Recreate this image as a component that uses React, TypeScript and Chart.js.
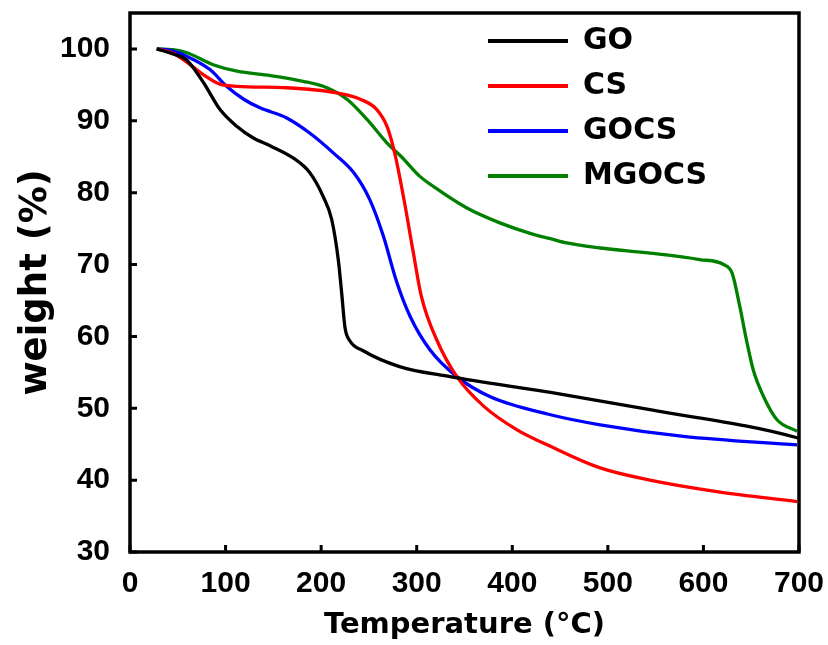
import React, { useEffect, useRef } from 'react';
import { Chart, registerables } from 'chart.js';

Chart.register(...registerables);

const seriesNames = ['GO', 'CS', 'GOCS', 'MGOCS'];
const seriesColors = ['#000000', '#ff0000', '#0000ff', '#008000'];

const goTemp = [28, 45, 59, 77, 94, 112, 129, 147, 171, 188, 202, 211, 218, 221.5, 225, 230, 244, 282, 335, 440, 544, 698, 700];
const goWeight = [100, 99.3, 98.5, 95.3, 91.6, 89.2, 87.6, 86.5, 84.8, 82.8, 79.5, 76.3, 70.6, 66, 61.2, 59.4, 58, 55.8, 54.4, 52.2, 49.8, 45.9, 45.8];

const csTemp = [28, 45, 59, 77, 94, 112, 164, 216, 241, 258, 269, 277, 287, 296, 305, 321, 342, 370, 405, 440, 492, 544, 614, 698];
const csWeight = [100, 99.4, 98.2, 96.4, 95.1, 94.8, 94.6, 93.9, 93.0, 91.6, 89.2, 85.5, 78.8, 72.0, 65.5, 59.5, 54.4, 50.3, 47.0, 44.7, 41.7, 40.0, 38.4, 37.0];

const gocsTemp = [28, 45, 59, 84, 101, 119, 136, 164, 188, 213, 234, 251, 265, 279, 293, 314, 342, 377, 440, 492, 579, 698];
const gocsWeight = [100, 99.7, 99.0, 97.1, 94.8, 93.0, 91.8, 90.4, 88.3, 85.5, 82.8, 79.0, 74.0, 67.6, 62.8, 58.1, 54.4, 51.6, 49.1, 47.7, 46.1, 44.9];

const mgocsTemp = [28, 45, 59, 87, 112, 147, 181, 206, 227, 248, 269, 284, 303, 317, 352, 387, 422, 440, 457, 492, 544, 596, 621, 630, 638, 645, 652, 663, 677, 698];
const mgocsWeight = [100, 99.9, 99.5, 97.8, 96.9, 96.3, 95.5, 94.6, 93.0, 90.2, 86.9, 85.0, 82.3, 80.9, 77.9, 75.8, 74.2, 73.6, 73.0, 72.3, 71.6, 70.7, 70.0, 68.8, 64.2, 59.5, 55.4, 51.6, 48.4, 46.8];

const seriesTemps = [goTemp, csTemp, gocsTemp, mgocsTemp];
const seriesWeights = [goWeight, csWeight, gocsWeight, mgocsWeight];

const xTicks = [0, 100, 200, 300, 400, 500, 600, 700];
const yTicks = [30, 40, 50, 60, 70, 80, 90, 100];

const framePlugin = {
  id: 'frame',
  afterDraw(chart: any) {
    const { ctx, chartArea: a, scales } = chart;
    ctx.save();
    ctx.strokeStyle = '#000';
    ctx.lineWidth = 3.5;
    ctx.strokeRect(a.left, a.top, a.right - a.left, a.bottom - a.top);
    ctx.lineWidth = 3;
    ctx.beginPath();
    for (const v of xTicks) {
      const x = scales.x.getPixelForValue(v);
      ctx.moveTo(x, a.bottom);
      ctx.lineTo(x, a.bottom - 7);
    }
    for (const v of yTicks) {
      const y = scales.y.getPixelForValue(v);
      ctx.moveTo(a.left, y);
      ctx.lineTo(a.left + 7, y);
    }
    ctx.stroke();
    ctx.restore();
  },
};

const legendPlace = {
  id: 'legendPlace',
  afterLayout(chart: any) {
    const lg = chart.legend;
    if (!lg) return;
    const L = 473;
    const T = 11;
    lg.left = L;
    lg.right = L + lg.width;
    lg.top = T;
    lg.bottom = T + lg.height;
  },
};

export default function App() {
  const ref = useRef<HTMLCanvasElement | null>(null);

  useEffect(() => {
    document.body.style.margin = '0';
    document.body.style.overflow = 'hidden';
    if (!ref.current) return;
    const datasets = seriesNames.map((name, i) => ({
      label: name,
      data: seriesTemps[i].map((t, j) => ({ x: t, y: seriesWeights[i][j] })),
      borderColor: seriesColors[i],
      backgroundColor: seriesColors[i],
      borderWidth: 3.3,
      pointRadius: 0,
      cubicInterpolationMode: 'monotone' as const,
      fill: false,
    }));
    const chart = new Chart(ref.current, {
      type: 'line',
      data: { datasets },
      options: {
        animation: false,
        responsive: true,
        maintainAspectRatio: false,
        layout: { padding: { top: 13, right: 29, bottom: 0, left: 0 } },
        plugins: {
          tooltip: { enabled: false },
          legend: {
            position: 'chartArea' as any,
            align: 'start',
            labels: {
              boxWidth: 80,
              boxHeight: 4,
              padding: 15,
              color: '#000',
              font: { family: 'DejaVu Sans', weight: 'bold', size: 30 },
              generateLabels: (c: any) =>
                Chart.defaults.plugins.legend.labels.generateLabels(c).map((l: any) => ({ ...l, lineWidth: 0 })),
            },
          },
        },
        scales: {
          x: {
            type: 'linear',
            min: 0,
            max: 700,
            grid: { display: false },
            border: { display: false },
            ticks: {
              stepSize: 100,
              autoSkip: false,
              maxRotation: 0,
              padding: 6,
              color: '#000',
              font: { family: 'Liberation Sans', weight: 'bold', size: 30 },
            },
            title: {
              display: true,
              text: 'Temperature (°C)',
              color: '#000',
              font: { family: 'DejaVu Sans', weight: 'bold', size: 29 },
              padding: { top: 0, bottom: 2 },
            },
            afterFit: (s: any) => {
              s.height = 93;
              s.paddingLeft = 0;
              s.paddingRight = 0;
            },
          },
          y: {
            type: 'linear',
            min: 30,
            max: 105,
            grid: { display: false },
            border: { display: false },
            afterBuildTicks: (s: any) => {
              s.ticks = s.ticks.filter((t: any) => t.value <= 100);
            },
            ticks: {
              stepSize: 10,
              padding: 12,
              color: '#000',
              font: { family: 'Liberation Sans', weight: 'bold', size: 30 },
            },
            title: {
              display: true,
              text: 'weight (%)',
              color: '#000',
              font: { family: 'DejaVu Sans', weight: 'bold', size: 37 },
              padding: { top: 14, bottom: 0 },
            },
            afterFit: (s: any) => {
              s.width = 130;
              s.paddingTop = 0;
              s.paddingBottom = 0;
            },
          },
        },
      },
      plugins: [framePlugin, legendPlace],
    });
    return () => chart.destroy();
  }, []);

  return (
    <div style={{ position: 'relative', width: '828px', height: '645px', background: '#fff' }}>
      <canvas ref={ref} />
    </div>
  );
}
